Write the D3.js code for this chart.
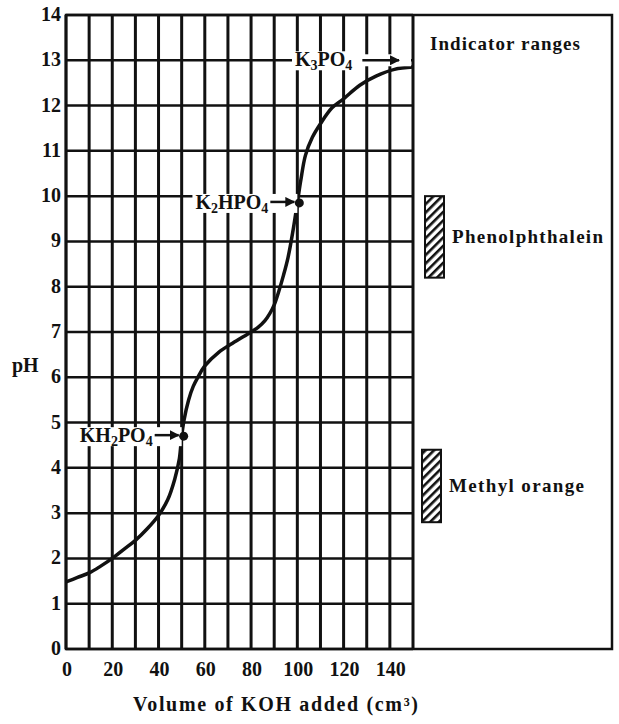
<!DOCTYPE html>
<html><head><meta charset="utf-8">
<script src="https://cdn.jsdelivr.net/npm/d3@7"></script>
<style>body{margin:0;background:#fff}svg{display:block}text{font-family:"Liberation Serif","DejaVu Serif",serif;font-weight:bold;fill:#111}</style>
</head><body><svg id="c" width="619" height="724"></svg>
<script>
const volume = [0,5,10,15,20,25,30,35,40,44,47,49,50,51,53,55,57,60,66,72,80,83,86,88,90,92,94,96,98,100,101.5,103.5,106.5,110,115,120,127,134,142,150];
const pH = [1.48,1.58,1.68,1.83,2.0,2.2,2.4,2.65,2.95,3.3,3.75,4.2,4.7,5.05,5.5,5.8,6.0,6.25,6.55,6.75,7.0,7.1,7.25,7.4,7.6,7.9,8.25,8.65,9.2,9.85,10.35,10.9,11.3,11.6,11.95,12.15,12.45,12.65,12.8,12.85];
const xTicks = [0,20,40,60,80,100,120,140];
const yTicks = [0,1,2,3,4,5,6,7,8,9,10,11,12,13,14];
const salts = [{parts:[["KH",0],["2",1],["PO",0],["4",1]], v:50, p:4.7}, {parts:[["K",0],["2",1],["HPO",0],["4",1]], v:100, p:9.85}];
const endSalt = {parts:[["K",0],["3",1],["PO",0],["4",1]], v:150, p:13};
const indicators = [{name:"Phenolphthalein", lo:8.2, hi:10, w:151}, {name:"Methyl orange", lo:2.8, hi:4.4, w:135}];

const svg = d3.select("#c");
const x = d3.scaleLinear().domain([0,150]).range([66,413]);
const y = d3.scaleLinear().domain([0,14]).range([649,15]);

const defs = svg.append("defs");
defs.append("pattern").attr("id","hatch").attr("patternUnits","userSpaceOnUse")
  .attr("width",6).attr("height",6).attr("patternTransform","rotate(-45)")
  .append("rect").attr("x",0).attr("y",0).attr("width",6).attr("height",2.6).attr("fill","#111");
defs.append("marker").attr("id","arr").attr("viewBox","0 0 10 10").attr("refX",9).attr("refY",5)
  .attr("markerWidth",4).attr("markerHeight",4).attr("orient","auto")
  .append("path").attr("d","M0,0L10,5L0,10z").attr("fill","#111");

// grid
const g = svg.append("g");
g.selectAll(".v").data(d3.range(0,151,10)).enter().append("line")
  .attr("x1",d=>x(d)).attr("x2",d=>x(d)).attr("y1",y(0)).attr("y2",y(14))
  .attr("stroke","#111").attr("stroke-width",3);
g.selectAll(".h").data(yTicks).enter().append("line")
  .attr("x1",x(0)).attr("x2",x(150)).attr("y1",d=>y(d)).attr("y2",d=>y(d))
  .attr("stroke","#111").attr("stroke-width",2.5);
svg.append("rect").attr("x",x(0)).attr("y",y(14)).attr("width",612-x(0)).attr("height",y(0)-y(14))
  .attr("fill","none").attr("stroke","#111").attr("stroke-width",2.5);

// curve
svg.append("path").datum(volume.map((v,i)=>[v,pH[i]]))
  .attr("d",d3.line().x(d=>x(d[0])).y(d=>y(d[1])).curve(d3.curveCatmullRom.alpha(0.5)))
  .attr("fill","none").attr("stroke","#111").attr("stroke-width",3.5);

function chem(sel, parts){
  parts.forEach(([s,sub],i)=>{
    const ts = sel.append("tspan").text(s);
    if(sub){ ts.attr("font-size",14).attr("dy",4); }
    else if(i>0){ ts.attr("dy",-4); }
  });
}
// salt labels
salts.forEach(s=>{
  const px=x(s.v)+2, py=y(s.p);
  const t = svg.append("text").attr("x",px-31).attr("y",py+6).attr("text-anchor","end").attr("font-size",20);
  chem(t, s.parts);
  const bb = t.node().getBBox();
  svg.insert("rect","text").attr("x",bb.x-3).attr("y",py-9).attr("width",bb.width+32).attr("height",19).attr("fill","#fff");
  svg.append("line").attr("x1",px-29).attr("x2",px-5).attr("y1",py-1).attr("y2",py-1)
    .attr("stroke","#111").attr("stroke-width",2.5).attr("marker-end","url(#arr)");
  svg.append("circle").attr("cx",px).attr("cy",py).attr("r",4.5).attr("fill","#111");
});
// K3PO4
{
  const py=y(endSalt.p), x0=295;
  const t = svg.append("text").attr("x",x0).attr("y",py+6).attr("font-size",20);
  chem(t, endSalt.parts);
  const bb = t.node().getBBox();
  svg.insert("rect","text").attr("x",x0-3).attr("y",py-9).attr("width",bb.width+10).attr("height",19).attr("fill","#fff");
  svg.insert("rect","text").attr("x",x0+bb.width+2).attr("y",py-6).attr("width",x(150)-x0-bb.width-4).attr("height",12).attr("fill","#fff");
  svg.append("line").attr("x1",x0+bb.width+10).attr("x2",x(150)-14).attr("y1",py).attr("y2",py)
    .attr("stroke","#111").attr("stroke-width",2.5).attr("marker-end","url(#arr)");
}

// indicators
svg.append("text").attr("x",430).attr("y",50).attr("font-size",19).attr("textLength",150).text("Indicator ranges");
const ix=[425,422];
indicators.forEach((d,i)=>{
  svg.append("rect").attr("x",ix[i]).attr("y",y(d.hi)).attr("width",19).attr("height",y(d.lo)-y(d.hi))
    .attr("fill","url(#hatch)").attr("stroke","#111").attr("stroke-width",2);
  svg.append("text").attr("x",ix[i]+27).attr("y",(y(d.lo)+y(d.hi))/2+6).attr("font-size",19)
    .attr("textLength",d.w).text(d.name);
});

// axes labels
svg.selectAll(".yt").data(yTicks).enter().append("text")
  .attr("x",61).attr("y",d=>y(d)+6).attr("text-anchor","end").attr("font-size",20).text(d=>d);
svg.selectAll(".xt").data(xTicks).enter().append("text")
  .attr("x",d=>x(d)+1).attr("y",676).attr("text-anchor","middle").attr("font-size",20).text(d=>d);
svg.append("text").attr("x",12).attr("y",372).attr("font-size",20).text("pH");
svg.append("text").attr("x",133).attr("y",711).attr("font-size",20).attr("textLength",285)
  .attr("lengthAdjust","spacing").text("Volume of KOH added (cm³)");
</script></body></html>
